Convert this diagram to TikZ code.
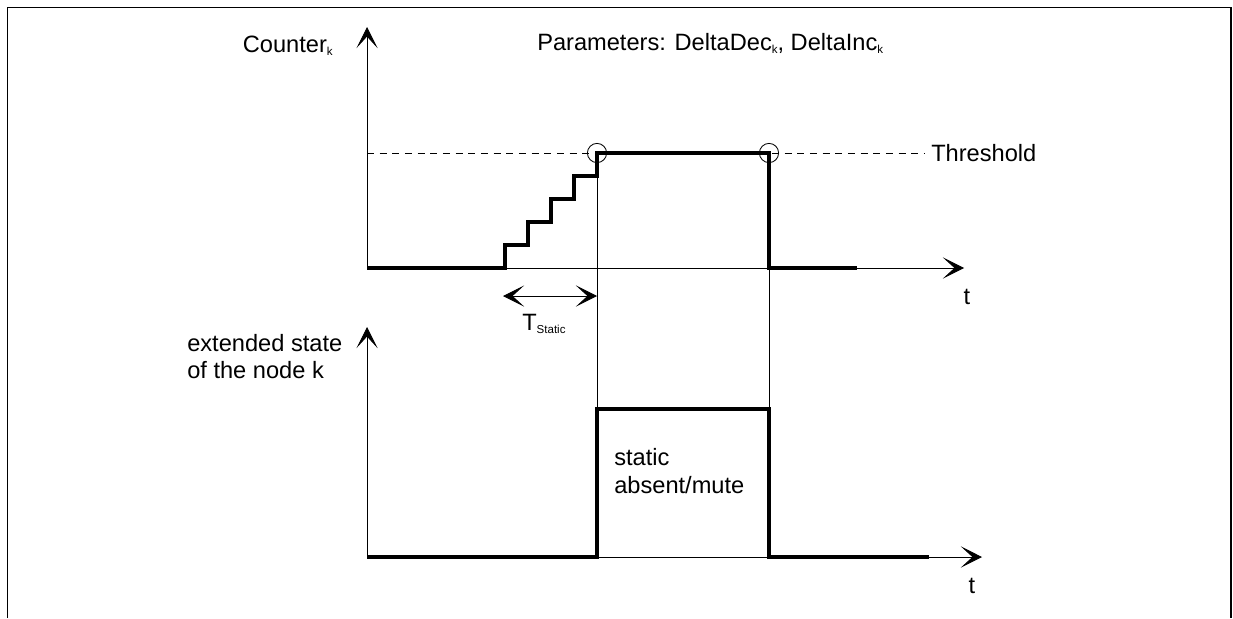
\documentclass[tikz,border=0pt]{standalone}
\usepackage{fontspec}
\setmainfont{Liberation Sans}
\usetikzlibrary{arrows.meta}
\newcommand\lowsub[1]{\raisebox{-2.5pt}{\fontsize{8.2}{9}\selectfont #1}}

\begin{document}
\begin{tikzpicture}[x=0.025cm,y=-0.025cm,>={Stealth[length=5.3mm,width=5.3mm,inset=2.9mm]},
  every node/.style={font=\fontsize{16.8}{20}\selectfont,inner sep=0pt},
  axisline/.style={line width=0.6pt},signal/.style={line width=3.2pt},frameline/.style={line width=1.4pt}]
\useasboundingbox (0,0) rectangle (1233,618);
\draw[frameline] (7.5,618)--(7.5,7.5)--(1231,7.5)--(1231,618);
\coordinate(OA)at(367,268);\coordinate(YA)at(367,27);\coordinate(XA)at(964,268);
\coordinate(OB)at(367,557);\coordinate(YB)at(367,327);\coordinate(XB)at(982,557);
\coordinate(Up)at(597,153);\coordinate(Down)at(769,153);
\draw[->,axisline](OA)--(YA);\draw[->,axisline](OA)--(XA);
\draw[->,axisline](OB)--(YB);\draw[->,axisline](OB)--(XB);
\draw[dashed,axisline,dash pattern=on 5pt off 4pt](367,153)--(924,153);
\draw[axisline](Up)--(597,557);\draw[axisline](Down)--(769,557);
\draw[axisline](Up)circle[radius=2.4mm];\draw[axisline](Down)circle[radius=2.4mm];
\draw[signal](OA)--(505,268)|-(528,245)|-(551,222)|-(574,199)|-(597,176)|-(Down)--(769,268)--(857,268);
\draw[signal](OB)--(597,557)--(597,409)--(769,409)--(769,557)--(929,557);
\draw[<->,axisline](503,296)--(597,296);
\node[anchor=base east](counterlbl)at(333,52){Counter\lowsub{k}};
\node[anchor=base west](paramlbl)at(537,50){Parameters: DeltaDec\lowsub{k}, DeltaInc\lowsub{k}};
\node[anchor=base west](thrlbl)at(931,161){Threshold};
\node[anchor=base](tlblA)at(967,304){t};\node[anchor=base](tlblB)at(972,593){t};
\node[anchor=base west](tstatic)at(522,330){T\lowsub{Static}};
\node[anchor=base west](extlblA)at(187,351){extended state};\node[anchor=base west](extlblB)at(187,378){of the node k};
\node[anchor=base west](statlblA)at(614,465){static};\node[anchor=base west](statlblB)at(614,493){absent/mute};
\end{tikzpicture}
\end{document}
